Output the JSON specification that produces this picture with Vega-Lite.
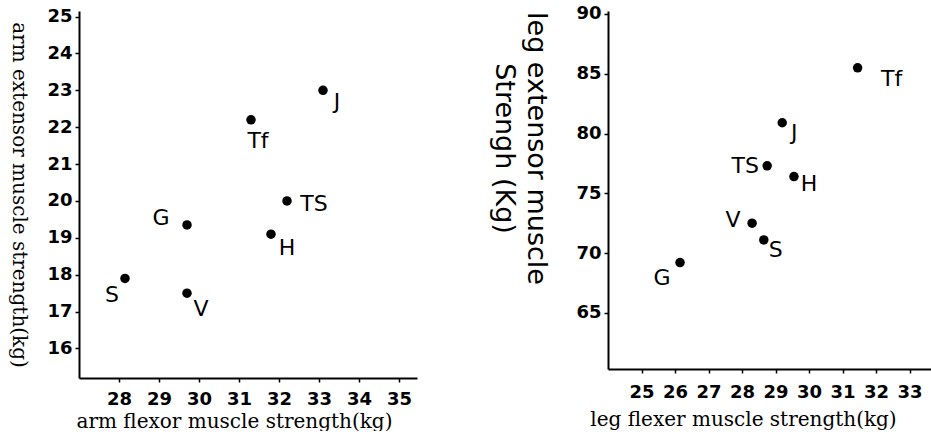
{
  "$schema": "https://vega.github.io/schema/vega-lite/v6.json",
  "padding": {"left": 8, "top": 4, "right": 0, "bottom": 0},
  "spacing": 73,
  "background": "white",
  "config": {
    "view": {"stroke": null},
    "axis": {
      "grid": false,
      "domainColor": "black",
      "domainWidth": 2,
      "tickColor": "black",
      "tickWidth": 1.5,
      "tickSize": 4,
      "labelColor": "black",
      "labelFont": "DejaVu Sans",
      "labelFontWeight": "bold",
      "labelFontSize": 18,
      "labelPadding": 3,
      "titleColor": "black",
      "titleFont": "DejaVu Serif",
      "titleFontWeight": "normal",
      "titleFontSize": 20
    }
  },
  "datasets": {
    "arm": [
      {"name": "J", "flexor": 33.1, "extensor": 23.0},
      {"name": "Tf", "flexor": 31.3, "extensor": 22.2},
      {"name": "TS", "flexor": 32.2, "extensor": 20.0},
      {"name": "G", "flexor": 29.7, "extensor": 19.35},
      {"name": "H", "flexor": 31.8, "extensor": 19.1},
      {"name": "S", "flexor": 28.15, "extensor": 17.9},
      {"name": "V", "flexor": 29.7, "extensor": 17.5}
    ],
    "leg": [
      {"name": "Tf", "flexor": 31.45, "extensor": 85.5},
      {"name": "J", "flexor": 29.2, "extensor": 80.9},
      {"name": "TS", "flexor": 28.75, "extensor": 77.3},
      {"name": "H", "flexor": 29.55, "extensor": 76.4},
      {"name": "V", "flexor": 28.3, "extensor": 72.5},
      {"name": "S", "flexor": 28.65, "extensor": 71.1},
      {"name": "G", "flexor": 26.15, "extensor": 69.2}
    ]
  },
  "hconcat": [
    {
      "width": 338,
      "height": 367,
      "data": {"name": "arm"},
      "encoding": {
        "x": {"field": "flexor", "type": "quantitative",
          "scale": {"domain": [27, 35.45], "nice": false, "zero": false},
          "axis": {"values": [28, 29, 30, 31, 32, 33, 34, 35], "title": "arm flexor muscle strength(kg)", "labelPadding": 8, "titlePadding": 3, "titleX": 155}},
        "y": {"field": "extensor", "type": "quantitative",
          "scale": {"domain": [15.2, 25.15], "nice": false, "zero": false},
          "axis": {"values": [16, 17, 18, 19, 20, 21, 22, 23, 24, 25], "title": "arm extensor muscle strength(kg)", "titleAngle": 90, "titleFontSize": 20, "titlePadding": 38}}
      },
      "layer": [
        {"mark": {"type": "circle", "size": 90, "color": "black", "opacity": 1}},
        {"transform": [{"filter": "datum.name == 'J'"}], "mark": {"type": "text", "dx": 14, "dy": 12, "font": "DejaVu Sans", "fontSize": 22, "color": "black"}, "encoding": {"text": {"field": "name"}}},
        {"transform": [{"filter": "datum.name == 'Tf'"}], "mark": {"type": "text", "dx": 7, "dy": 21, "font": "DejaVu Sans", "fontSize": 22, "color": "black"}, "encoding": {"text": {"field": "name"}}},
        {"transform": [{"filter": "datum.name == 'TS'"}], "mark": {"type": "text", "dx": 27, "dy": 3, "font": "DejaVu Sans", "fontSize": 22, "color": "black"}, "encoding": {"text": {"field": "name"}}},
        {"transform": [{"filter": "datum.name == 'G'"}], "mark": {"type": "text", "dx": -26, "dy": -7, "font": "DejaVu Sans", "fontSize": 22, "color": "black"}, "encoding": {"text": {"field": "name"}}},
        {"transform": [{"filter": "datum.name == 'H'"}], "mark": {"type": "text", "dx": 16, "dy": 14, "font": "DejaVu Sans", "fontSize": 22, "color": "black"}, "encoding": {"text": {"field": "name"}}},
        {"transform": [{"filter": "datum.name == 'S'"}], "mark": {"type": "text", "dx": -13, "dy": 17, "font": "DejaVu Sans", "fontSize": 22, "color": "black"}, "encoding": {"text": {"field": "name"}}},
        {"transform": [{"filter": "datum.name == 'V'"}], "mark": {"type": "text", "dx": 14, "dy": 16, "font": "DejaVu Sans", "fontSize": 22, "color": "black"}, "encoding": {"text": {"field": "name"}}}
      ]
    },
    {
      "width": 323,
      "height": 358,
      "data": {"name": "leg"},
      "encoding": {
        "x": {"field": "flexor", "type": "quantitative",
          "scale": {"domain": [24, 33.64], "nice": false, "zero": false},
          "axis": {"values": [25, 26, 27, 28, 29, 30, 31, 32, 33], "title": "leg flexer muscle strength(kg)", "labelPadding": 10, "titlePadding": 8, "titleX": 135}},
        "y": {"field": "extensor", "type": "quantitative",
          "scale": {"domain": [60.3, 90.25], "nice": false, "zero": false},
          "axis": {"values": [65, 70, 75, 80, 85, 90], "title": ["leg extensor muscle", "Strengh (Kg)"], "titleAngle": 90, "titleAlign": "center", "titleY": 137, "titleX": -87, "titleFont": "DejaVu Sans", "titleFontSize": 27, "titleLineHeight": 32}}
      },
      "layer": [
        {"mark": {"type": "circle", "size": 90, "color": "black", "opacity": 1}},
        {"transform": [{"filter": "datum.name == 'Tf'"}], "mark": {"type": "text", "dx": 34, "dy": 11, "font": "DejaVu Sans", "fontSize": 22, "color": "black"}, "encoding": {"text": {"field": "name"}}},
        {"transform": [{"filter": "datum.name == 'J'"}], "mark": {"type": "text", "dx": 12, "dy": 10, "font": "DejaVu Sans", "fontSize": 22, "color": "black"}, "encoding": {"text": {"field": "name"}}},
        {"transform": [{"filter": "datum.name == 'TS'"}], "mark": {"type": "text", "dx": -22, "dy": 0, "font": "DejaVu Sans", "fontSize": 22, "color": "black"}, "encoding": {"text": {"field": "name"}}},
        {"transform": [{"filter": "datum.name == 'H'"}], "mark": {"type": "text", "dx": 15, "dy": 7, "font": "DejaVu Sans", "fontSize": 22, "color": "black"}, "encoding": {"text": {"field": "name"}}},
        {"transform": [{"filter": "datum.name == 'V'"}], "mark": {"type": "text", "dx": -19, "dy": -3, "font": "DejaVu Sans", "fontSize": 22, "color": "black"}, "encoding": {"text": {"field": "name"}}},
        {"transform": [{"filter": "datum.name == 'S'"}], "mark": {"type": "text", "dx": 12, "dy": 10, "font": "DejaVu Sans", "fontSize": 22, "color": "black"}, "encoding": {"text": {"field": "name"}}},
        {"transform": [{"filter": "datum.name == 'G'"}], "mark": {"type": "text", "dx": -18, "dy": 15, "font": "DejaVu Sans", "fontSize": 22, "color": "black"}, "encoding": {"text": {"field": "name"}}}
      ]
    }
  ]
}
